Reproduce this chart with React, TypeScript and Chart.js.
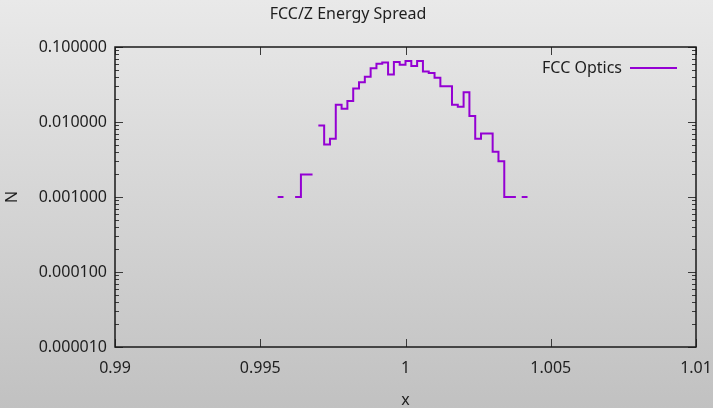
import React, { useEffect, useRef } from "react";
import { Chart, registerables } from "chart.js";

Chart.register(...registerables);

// ---- data ----
const chartTitle = "FCC/Z Energy Spread";
const seriesLabel = "FCC Optics";
const xTitle = "x";
const yTitle = "N";
const binStart = 0.9956;
const binWidth = 0.0002;
const binValues: (number | null)[] = [
  0.001, null, null, 0.001, 0.002, 0.002, null, 0.009, 0.005, 0.006,
  0.017, 0.015, 0.019, 0.028, 0.034, 0.04, 0.052, 0.06, 0.062, 0.043,
  0.063, 0.058, 0.065, 0.056, 0.065, 0.047, 0.045, 0.039, 0.03, 0.03,
  0.017, 0.016, 0.025, 0.012, 0.006, 0.007, 0.007, 0.004, 0.003, 0.001,
  0.001, null, 0.001,
];
const xTicks = [0.99, 0.995, 1, 1.005, 1.01];
const xTickLabels = ["0.99", "0.995", "1", "1.005", "1.01"];
const yTicks = [1e-5, 1e-4, 1e-3, 1e-2, 1e-1];
const yTickLabels = ["0.000010", "0.000100", "0.001000", "0.010000", "0.100000"];

const FONT = "'Noto Sans', 'Open Sans', sans-serif";
const LINE_COLOR = "#9400d3";
const TEXT_COLOR = "#1e1e1e";

function buildSteps() {
  const pts: { x: number; y: number | null }[] = [];
  binValues.forEach((v, i) => {
    if (v == null) return;
    const l = binStart + i * binWidth;
    const r = l + binWidth;
    pts.push({ x: l, y: v }, { x: r, y: v });
    if (binValues[i + 1] == null) pts.push({ x: r, y: null });
  });
  return pts;
}

const bgPlugin = {
  id: "bgGradient",
  beforeDraw(chart: any) {
    const { ctx, width, height } = chart;
    const g = ctx.createLinearGradient(0, 0, 0, height);
    g.addColorStop(0, "#e9e9e9");
    g.addColorStop(1, "#c1c1c1");
    ctx.save();
    ctx.fillStyle = g;
    ctx.fillRect(0, 0, width, height);
    ctx.restore();
  },
};

const framePlugin = {
  id: "gnuFrame",
  afterDraw(chart: any) {
    const { ctx, chartArea: a } = chart;
    const xs = chart.scales.x;
    const ys = chart.scales.y;
    ctx.save();
    // ticks
    ctx.strokeStyle = "#3a3a3a";
    ctx.lineWidth = 1;
    ctx.beginPath();
    xTicks.forEach((v) => {
      const px = Math.round(xs.getPixelForValue(v)) + 0.5;
      ctx.moveTo(px, a.bottom);
      ctx.lineTo(px, a.bottom - 8);
      ctx.moveTo(px, a.top);
      ctx.lineTo(px, a.top + 8);
    });
    yTicks.forEach((v, i) => {
      const py = Math.round(ys.getPixelForValue(v)) + 0.5;
      ctx.moveTo(a.left, py);
      ctx.lineTo(a.left + 8, py);
      ctx.moveTo(a.right, py);
      ctx.lineTo(a.right - 8, py);
      if (i < yTicks.length - 1) {
        for (let k = 2; k <= 9; k++) {
          const m = Math.round(ys.getPixelForValue(v * k)) + 0.5;
          ctx.moveTo(a.left, m);
          ctx.lineTo(a.left + 4, m);
          ctx.moveTo(a.right, m);
          ctx.lineTo(a.right - 4, m);
        }
      }
    });
    ctx.stroke();
    // border
    ctx.strokeStyle = "#1a1a1a";
    ctx.lineWidth = 1.5;
    ctx.strokeRect(a.left, a.top, a.right - a.left, a.bottom - a.top);
    // legend
    const ds = chart.data.datasets[0];
    const ly = a.top + 21;
    ctx.font = `16px ${FONT}`;
    ctx.fillStyle = TEXT_COLOR;
    ctx.textAlign = "right";
    ctx.textBaseline = "middle";
    ctx.fillText(ds.label, a.right - 74, ly);
    ctx.strokeStyle = ds.borderColor;
    ctx.lineWidth = 2;
    ctx.beginPath();
    ctx.moveTo(a.right - 66, ly);
    ctx.lineTo(a.right - 19, ly);
    ctx.stroke();
    ctx.restore();
  },
};

export default function App() {
  const ref = useRef<HTMLCanvasElement | null>(null);
  useEffect(() => {
    if (!ref.current) return;
    const chart = new Chart(ref.current, {
      type: "line",
      data: {
        datasets: [
          {
            label: seriesLabel,
            data: buildSteps() as any,
            borderColor: LINE_COLOR,
            backgroundColor: LINE_COLOR,
            borderWidth: 2,
            pointRadius: 0,
            spanGaps: false,
            tension: 0,
          },
        ],
      },
      options: {
        animation: false,
        responsive: false,
        devicePixelRatio: 1,
        parsing: false as any,
        layout: { padding: { left: 0, right: 17, top: 0, bottom: 0 } },
        plugins: {
          legend: { display: false },
          tooltip: { enabled: false },
          title: {
            display: true,
            text: chartTitle,
            color: TEXT_COLOR,
            font: { family: FONT, size: 16, weight: "normal", lineHeight: 1.2 },
            padding: { top: 5, bottom: 22.8 },
          },
        },
        scales: {
          x: {
            type: "linear",
            min: 0.99,
            max: 1.01,
            afterFit: (s: any) => {
              s.height = 61;
              s.paddingLeft = 0;
              s.paddingRight = 0;
            },
            afterBuildTicks: (s: any) => {
              s.ticks = xTicks.map((v) => ({ value: v }));
            },
            grid: { display: false, drawTicks: false },
            border: { display: false },
            ticks: {
              autoSkip: false,
              maxRotation: 0,
              padding: 12,
              color: TEXT_COLOR,
              font: { family: FONT, size: 16 },
              callback: (_v: any, i: number) => xTickLabels[i],
            },
            title: {
              display: true,
              text: xTitle,
              color: TEXT_COLOR,
              font: { family: FONT, size: 16, lineHeight: 1 },
              padding: 0,
            },
          },
          y: {
            type: "logarithmic",
            min: 1e-5,
            max: 0.1,
            afterFit: (s: any) => {
              s.width = 115;
              s.paddingTop = 0;
              s.paddingBottom = 0;
            },
            afterBuildTicks: (s: any) => {
              s.ticks = yTicks.map((v) => ({ value: v, major: true }));
            },
            grid: { display: false, drawTicks: false },
            border: { display: false },
            ticks: {
              autoSkip: false,
              padding: 8,
              color: TEXT_COLOR,
              font: { family: FONT, size: 16 },
              callback: (_v: any, i: number) => yTickLabels[i],
            },
            title: {
              display: true,
              text: yTitle,
              color: TEXT_COLOR,
              font: { family: FONT, size: 16, lineHeight: 1.2 },
              padding: { top: 3, bottom: 0 },
            },
          },
        },
      },
      plugins: [bgPlugin, framePlugin],
    });
    return () => chart.destroy();
  }, []);
  return (
    <div style={{ position: "absolute", left: 0, top: 0, width: 713, height: 408 }}>
      <canvas ref={ref} width={713} height={408} style={{ display: "block" }} />
    </div>
  );
}
